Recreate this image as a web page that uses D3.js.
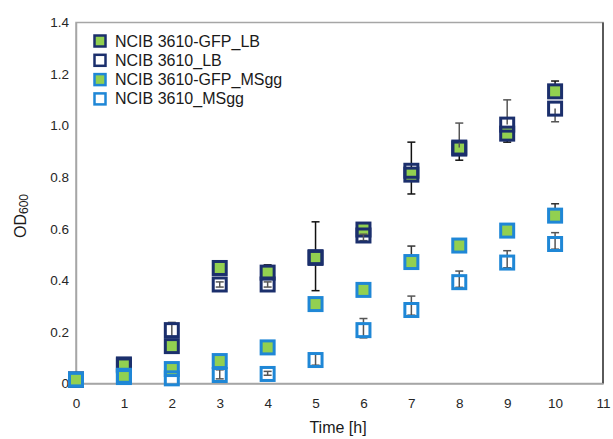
<!DOCTYPE html>
<html>
<head>
<meta charset="utf-8">
<script src="https://cdn.jsdelivr.net/npm/d3@7/dist/d3.min.js"></script>
<style>
  html, body { margin: 0; padding: 0; background: #fff; }
  svg { display: block; font-family: "Liberation Sans", Arial, sans-serif; }
</style>
</head>
<body>
<svg id="chart" width="613" height="439"></svg>
<script>
// Sampling times (h)
const times = [0, 1, 2, 3, 4, 5, 6, 7, 8, 9, 10];
const xTicks = [0, 1, 2, 3, 4, 5, 6, 7, 8, 9, 10, 11];
const yTicks = [0, 0.2, 0.4, 0.6, 0.8, 1.0, 1.2, 1.4];

// OD600 readings per strain / medium
const gfpLB      = [0.015, 0.074, 0.145, 0.448, 0.430, 0.487, 0.597, 0.810, 0.911, 0.969, 1.133];
const gfpLBUp    = [0, 0.008, 0.008, 0.008, 0.030, 0.140, 0.008, 0.126, 0.008, 0.008, 0.040];
const gfpLBDown  = [0, 0.008, 0.008, 0.008, 0.008, 0.127, 0.008, 0.075, 0.045, 0.033, 0.008];

const wtLB       = [0.015, 0.070, 0.207, 0.384, 0.384, 0.490, 0.574, 0.825, 0.915, 1.004, 1.066];
const wtLBUp     = [0, 0, 0.030, 0.010, 0.010, 0, 0.005, 0, 0.095, 0.096, 0];
const wtLBDown   = [0, 0, 0.027, 0.010, 0.010, 0, 0.020, 0, 0, 0, 0.051];

const gfpMS      = [0.015, 0.030, 0.056, 0.087, 0.140, 0.308, 0.363, 0.471, 0.535, 0.593, 0.651];
const gfpMSUp    = [0, 0, 0, 0.025, 0, 0.012, 0, 0.062, 0, 0.008, 0.046];
const gfpMSDown  = [0, 0, 0, 0, 0, 0, 0, 0, 0, 0, 0];

const wtMS       = [0.015, 0.025, 0.020, 0.033, 0.037, 0.091, 0.207, 0.285, 0.393, 0.469, 0.541];
const wtMSUp     = [0, 0, 0, 0.020, 0.010, 0.025, 0.045, 0.054, 0.043, 0.046, 0.044];
const wtMSDown   = [0, 0, 0, 0.015, 0.005, 0.020, 0.030, 0.020, 0.020, 0.020, 0.020];

const seriesNames = ["NCIB 3610-GFP_LB", "NCIB 3610_LB", "NCIB 3610-GFP_MSgg", "NCIB 3610_MSgg"];

const NAVY = "#1b2f6c", GREEN = "#92d050", LIGHT = "#1f87d6";

const series = [
  { name: seriesNames[0], values: gfpLB, up: gfpLBUp, down: gfpLBDown, stroke: NAVY,  fill: GREEN, err: "#111" },
  { name: seriesNames[1], values: wtLB,  up: wtLBUp,  down: wtLBDown,  stroke: NAVY,  fill: "none", err: "#555" },
  { name: seriesNames[2], values: gfpMS, up: gfpMSUp, down: gfpMSDown, stroke: LIGHT, fill: GREEN, err: "#333" },
  { name: seriesNames[3], values: wtMS,  up: wtMSUp,  down: wtMSDown,  stroke: LIGHT, fill: "none", err: "#555" }
];

const svg = d3.select("#chart");
const plotLeft = 76, plotRight = 603, plotTop = 22.5, plotBottom = 383.5;

const x = d3.scaleLinear().domain([0, 11]).range([plotLeft, plotRight]);
const y = d3.scaleLinear().domain([0, 1.4]).range([plotBottom, plotTop]);

// Plot frame
svg.append("rect")
  .attr("x", plotLeft).attr("y", plotTop)
  .attr("width", plotRight - plotLeft).attr("height", plotBottom - plotTop)
  .attr("fill", "none").attr("stroke", "#a6a6a6").attr("stroke-width", 1.5);
svg.append("line")
  .attr("x1", plotRight).attr("x2", plotRight).attr("y1", plotTop).attr("y2", plotBottom)
  .attr("stroke", "#3a3a3a").attr("stroke-width", 1.5);

// Axes
const yAxis = d3.axisLeft(y).tickValues(yTicks).tickSize(0).tickPadding(7)
  .tickFormat(d => d === 0 ? "0" : d3.format(".1f")(d));
const gy = svg.append("g").attr("transform", `translate(${plotLeft},0)`).call(yAxis);
const xAxis = d3.axisBottom(x).tickValues(xTicks).tickSize(0).tickPadding(15)
  .tickFormat(d3.format("d"));
const gx = svg.append("g").attr("transform", `translate(0,${plotBottom})`).call(xAxis);
[gx, gy].forEach(g => {
  g.select(".domain").attr("stroke", "#a6a6a6").attr("stroke-width", 1.5);
  g.selectAll(".tick text").attr("font-size", 13.5).attr("fill", "#262626")
    .attr("font-family", "'Liberation Sans', Arial, sans-serif");
});

// Axis titles
svg.append("text")
  .attr("x", 338).attr("y", 433)
  .attr("text-anchor", "middle").attr("font-size", 16).attr("fill", "#1a1a1a")
  .text("Time [h]");
const yt = svg.append("text")
  .attr("transform", "translate(26,216) rotate(-90)")
  .attr("text-anchor", "middle").attr("font-size", 16).attr("fill", "#1a1a1a");
yt.append("tspan").text("OD");
yt.append("tspan").attr("font-size", 12).attr("dy", 2).text("600");

// Markers with error bars
const size = 13, cap = 4;
const plot = svg.append("g");
series.forEach(s => {
  const g = plot.append("g");
  const pts = times.map((t, i) => ({ t, v: s.values[i], up: s.up[i], down: s.down[i] }));
  const eb = g.selectAll(".eb").data(pts.filter(d => d.up > 0 || d.down > 0)).join("g")
    .attr("stroke", s.err).attr("stroke-width", 1.5);
  eb.append("line")
    .attr("x1", d => x(d.t)).attr("x2", d => x(d.t))
    .attr("y1", d => y(d.v + d.up)).attr("y2", d => y(d.v - d.down));
  eb.filter(d => d.up > 0).append("line")
    .attr("x1", d => x(d.t) - cap).attr("x2", d => x(d.t) + cap)
    .attr("y1", d => y(d.v + d.up)).attr("y2", d => y(d.v + d.up));
  eb.filter(d => d.down > 0).append("line")
    .attr("x1", d => x(d.t) - cap).attr("x2", d => x(d.t) + cap)
    .attr("y1", d => y(d.v - d.down)).attr("y2", d => y(d.v - d.down));
  g.selectAll(".mk").data(pts).join("rect")
    .attr("x", d => x(d.t) - size / 2).attr("y", d => y(d.v) - size / 2)
    .attr("width", size).attr("height", size)
    .attr("fill", s.fill).attr("stroke", s.stroke).attr("stroke-width", 3);
});

// Legend
const legend = svg.append("g").attr("transform", "translate(100,41)");
series.forEach((s, i) => {
  const row = legend.append("g").attr("transform", `translate(0,${i * 19.3})`);
  row.append("rect").attr("x", -5.5).attr("y", -5.5).attr("width", 11).attr("height", 11)
    .attr("fill", s.fill === "none" ? "#fff" : s.fill)
    .attr("stroke", s.stroke).attr("stroke-width", 2.5);
  row.append("text").attr("x", 15).attr("y", 5.5).attr("font-size", 16).attr("fill", "#1a1a1a")
    .text(s.name);
});
</script>
</body>
</html>
